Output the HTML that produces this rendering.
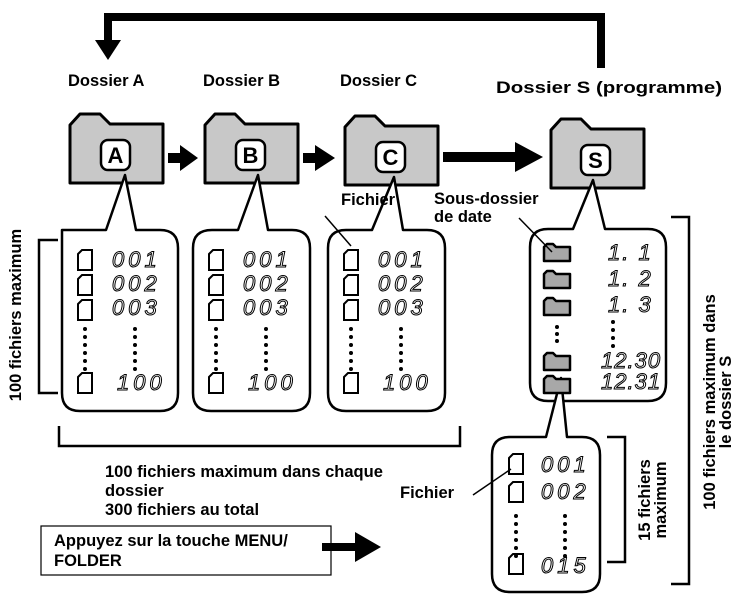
<!DOCTYPE html>
<html><head><meta charset="utf-8"><style>
body{margin:0;background:#fff}
svg{display:block}
text{font-family:"Liberation Sans",sans-serif}
.b{font-weight:bold;font-size:16.5px}
.d{font-family:"Liberation Sans",sans-serif;font-style:italic;font-size:22px;fill:none;stroke:#000;stroke-width:1;letter-spacing:4px}
</style></head><body>
<svg width="739" height="598" viewBox="0 0 739 598" xmlns="http://www.w3.org/2000/svg">
<defs>
<g id="fold"><path d="M0,12 L10,1 L30,1 L40,11 L93,11 L93,70 L0,70 Z" fill="#c8c8c8" stroke="#000" stroke-width="3" stroke-linejoin="round"/></g>
<g id="file"><path d="M0,4 L4,0 L14,0 L14,20 L0,20 Z" fill="#fff" stroke="#000" stroke-width="2"/></g>
<g id="sf"><path d="M0,3 L3,0 L9,0 L12,3 L26,3 L26,17 L0,17 Z" fill="#a8a8a8" stroke="#000" stroke-width="2.5" stroke-linejoin="round"/></g>
<g id="dots"><circle cx="0" cy="0" r="2"/><circle cx="0" cy="8" r="2"/><circle cx="0" cy="16" r="2"/><circle cx="0" cy="24" r="2"/><circle cx="0" cy="32" r="2"/><circle cx="0" cy="40" r="2"/></g>
</defs>
<path d="M601,68 L601,17 L108,17 L108,42" fill="none" stroke="#000" stroke-width="8"/>
<path d="M95,40 L121,40 L108,60 Z"/>
<text class="b" x="68" y="86">Dossier A</text>
<text class="b" x="203" y="86">Dossier B</text>
<text class="b" x="340" y="86">Dossier C</text>
<text class="b" x="496" y="93" textLength="226" lengthAdjust="spacingAndGlyphs">Dossier S (programme)</text>
<use href="#fold" x="70" y="113"/>
<use href="#fold" x="205" y="113"/>
<use href="#fold" x="345" y="115"/>
<use href="#fold" x="551" y="118"/>
<path d="M168,153 L180,153 L180,145 L198,158 L180,171 L180,163 L168,163 Z"/>
<path d="M303,153 L315,153 L315,145 L335,158 L315,171 L315,163 L303,163 Z"/>
<path d="M443,152 L515,152 L515,142 L543,157 L515,172 L515,162 L443,162 Z"/>
<g fill="#fff" stroke="#000" stroke-width="2.5" stroke-linejoin="round">
<path d="M80,230 L62,230 Q62,230 62,248 L62,393 Q62,411 80,411 L160,411 Q178,411 178,393 L178,248 Q178,230 160,230 L136,230 L125,175 L106,230 Z"/>
<path d="M212,230 Q193,230 193,248 L193,393 Q193,411 211,411 L292,411 Q310,411 310,393 L310,248 Q310,230 292,230 L268,230 L258,175 L238,230 Z"/>
<path d="M346,230 Q328,230 328,248 L328,393 Q328,411 346,411 L427,411 Q445,411 445,393 L445,248 Q445,230 427,230 L403,230 L394,177 L372,230 Z"/>
<path d="M548,229 Q530,229 530,247 L530,383 Q530,401 548,401 L648,401 Q666,401 666,383 L666,247 Q666,229 648,229 L605,229 L593,180 L573,229 Z"/>
<path d="M510,437 Q492,437 492,455 L492,574 Q492,592 510,592 L582,592 Q600,592 600,574 L600,455 Q600,437 582,437 L567,437 L561,378 L546,437 Z"/>
</g>
<g fill="#fff" stroke="#000" stroke-width="2.5">
<rect x="101" y="140" width="29" height="30" rx="7"/>
<rect x="236" y="140" width="29" height="30" rx="7"/>
<rect x="376" y="142" width="29" height="30" rx="7"/>
<rect x="581" y="145" width="29" height="30" rx="7"/>
</g>
<g font-weight="bold" font-size="22" text-anchor="middle">
<text x="115.5" y="163">A</text><text x="250.5" y="163">B</text><text x="390.5" y="165">C</text><text x="595.5" y="168">S</text>
</g>
<g id="listA">
<use href="#file" x="78" y="250"/><use href="#file" x="78" y="275"/><use href="#file" x="78" y="300"/><use href="#file" x="78" y="373"/>
<use href="#dots" x="85" y="329"/><use href="#dots" x="135" y="329"/>
<text class="d" x="112" y="267">001</text><text class="d" x="112" y="291">002</text><text class="d" x="112" y="315">003</text><text class="d" x="117" y="390">100</text>
</g>
<use href="#listA" x="131"/>
<use href="#listA" x="266"/>
<use href="#sf" x="544" y="244"/><use href="#sf" x="544" y="271"/><use href="#sf" x="544" y="298"/><use href="#sf" x="544" y="353"/><use href="#sf" x="544" y="376"/>
<circle cx="557" cy="327" r="2"/><circle cx="557" cy="334" r="2"/><circle cx="557" cy="341" r="2"/>
<circle cx="613" cy="322" r="2"/><circle cx="613" cy="330" r="2"/><circle cx="613" cy="338" r="2"/><circle cx="613" cy="346" r="2"/>
<text x="608" y="260" class="d" style="letter-spacing:2px">1.  1</text><text x="608" y="286" class="d" style="letter-spacing:2px">1.  2</text><text x="608" y="312" class="d" style="letter-spacing:2px">1.  3</text><text x="601" y="368" class="d" style="letter-spacing:1px">12.30</text><text x="601" y="389" class="d" style="letter-spacing:1px">12.31</text>
<use href="#file" x="509" y="454"/><use href="#file" x="509" y="482"/><use href="#file" x="509" y="554"/>
<use href="#dots" x="516" y="516"/><use href="#dots" x="565" y="516"/>
<text class="d" x="541" y="472">001</text><text class="d" x="541" y="499">002</text><text class="d" x="541" y="573">015</text>
<g stroke="#000" stroke-width="1.5">
<line x1="325" y1="216" x2="351" y2="246"/>
<line x1="519" y1="218" x2="552" y2="252"/>
<line x1="473" y1="495" x2="511" y2="469"/>
</g>
<text class="b" x="341" y="205">Fichier</text>
<text class="b" x="434" y="204">Sous-dossier</text>
<text class="b" x="434" y="222">de date</text>
<text class="b" x="400" y="498">Fichier</text>
<g fill="none" stroke="#000" stroke-width="2.5">
<path d="M58,240 L39,240 L39,393 L58,393"/>
<path d="M59,426 L59,446 L460,446 L460,426"/>
<path d="M671,217 L689,217 L689,584 L671,584"/>
<path d="M607,437 L625,437 L625,562 L607,562"/>
</g>
<text class="b" transform="translate(21,315) rotate(-90)" text-anchor="middle">100 fichiers maximum</text>
<text class="b" transform="translate(715,402) rotate(-90)" text-anchor="middle">100 fichiers maximum dans</text>
<text class="b" transform="translate(731,402) rotate(-90)" text-anchor="middle">le dossier S</text>
<text class="b" transform="translate(650,500) rotate(-90)" text-anchor="middle">15 fichiers</text>
<text class="b" transform="translate(666,500) rotate(-90)" text-anchor="middle">maximum</text>
<text class="b" x="105" y="477">100 fichiers maximum dans chaque</text>
<text class="b" x="105" y="496">dossier</text>
<text class="b" x="105" y="515">300 fichiers au total</text>
<rect x="41" y="526" width="290" height="49" fill="none" stroke="#000" stroke-width="1.2"/>
<text class="b" x="54" y="546">Appuyez sur la touche MENU/</text>
<text class="b" x="54" y="566">FOLDER</text>
<path d="M322,543 L355,543 L355,532 L381,547 L355,562 L355,551 L322,551 Z"/>
</svg>
</body></html>
